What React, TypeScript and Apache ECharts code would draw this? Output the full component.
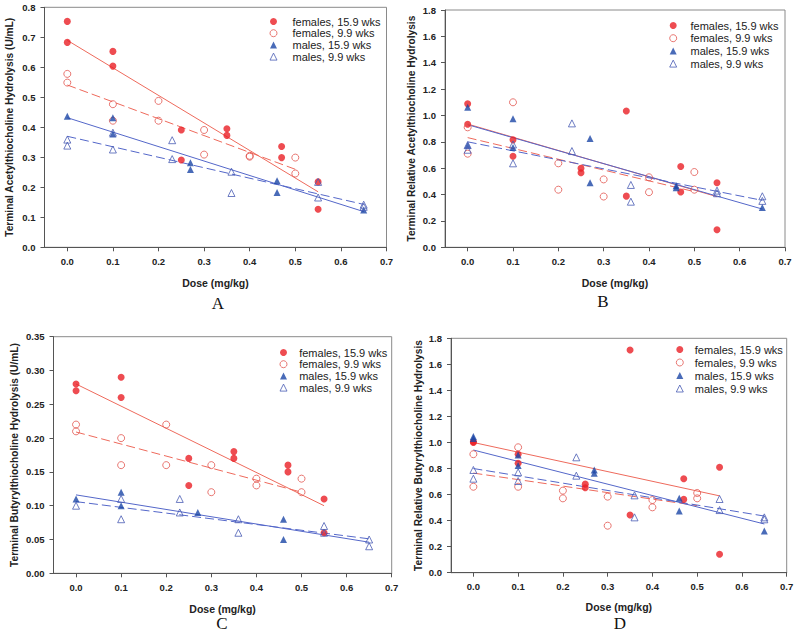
import React, { useEffect, useRef } from "react";
import * as echarts from "echarts";

// ---------- data ----------
const groupNames = ["females, 15.9 wks", "females, 9.9 wks", "males, 15.9 wks", "males, 9.9 wks"];
const doseTicks = [0, 0.1, 0.2, 0.3, 0.4, 0.5, 0.6, 0.7];

// Panel A: Terminal Acetylthiocholine Hydrolysis (U/mL)
const aF15 = [[0, 0.753], [0, 0.683], [0.1, 0.653], [0.1, 0.604], [0.25, 0.391], [0.25, 0.291], [0.35, 0.395], [0.35, 0.373], [0.47, 0.336], [0.47, 0.299], [0.55, 0.218], [0.55, 0.127]];
const aF9 = [[0, 0.578], [0, 0.549], [0.1, 0.477], [0.1, 0.422], [0.2, 0.488], [0.2, 0.422], [0.3, 0.391], [0.3, 0.309], [0.4, 0.305], [0.4, 0.302], [0.5, 0.299], [0.5, 0.246]];
const aM15 = [[0, 0.437], [0.1, 0.432], [0.1, 0.378], [0.27, 0.282], [0.27, 0.259], [0.46, 0.222], [0.46, 0.183], [0.65, 0.124]];
const aM9 = [[0, 0.359], [0, 0.339], [0.1, 0.382], [0.1, 0.326], [0.23, 0.357], [0.23, 0.294], [0.36, 0.252], [0.36, 0.181], [0.55, 0.218], [0.55, 0.166], [0.65, 0.142], [0.65, 0.135]];
const aFitF15 = [[0, 0.69], [0.55, 0.185]];
const aFitF9 = [[0, 0.541], [0.5, 0.26]];
const aFitM15 = [[0, 0.432], [0.65, 0.119]];
const aFitM9 = [[0, 0.37], [0.65, 0.143]];

// Panel B: Terminal Relative Acetylthiocholine Hydrolysis
const bF15 = [[0, 1.088], [0, 0.933], [0.1, 0.815], [0.1, 0.69], [0.25, 0.6], [0.25, 0.566], [0.35, 1.034], [0.35, 0.388], [0.47, 0.613], [0.47, 0.42], [0.55, 0.49], [0.55, 0.133]];
const bF9 = [[0, 0.91], [0, 0.71], [0.1, 1.1], [0.2, 0.637], [0.2, 0.437], [0.3, 0.515], [0.3, 0.385], [0.4, 0.531], [0.4, 0.418], [0.5, 0.571], [0.5, 0.437]];
const bM15 = [[0, 1.063], [0, 0.775], [0.1, 0.975], [0.1, 0.757], [0.27, 0.826], [0.27, 0.49], [0.46, 0.467], [0.46, 0.452], [0.65, 0.302]];
const bM9 = [[0, 0.775], [0, 0.74], [0.1, 0.78], [0.1, 0.637], [0.23, 0.94], [0.23, 0.73], [0.36, 0.473], [0.36, 0.346], [0.55, 0.43], [0.55, 0.41], [0.65, 0.387], [0.65, 0.352]];
const bFitF15 = [[0, 0.935], [0.55, 0.384]];
const bFitF9 = [[0, 0.832], [0.5, 0.422]];
const bFitM15 = [[0, 0.93], [0.65, 0.29]];
const bFitM9 = [[0, 0.8], [0.65, 0.356]];

// Panel C: Terminal Butyrylthiocholine Hydrolysis (U/mL)
const cF15 = [[0, 0.28], [0, 0.27], [0.1, 0.29], [0.1, 0.26], [0.25, 0.17], [0.25, 0.13], [0.35, 0.18], [0.35, 0.17], [0.47, 0.16], [0.47, 0.15], [0.55, 0.11], [0.55, 0.06]];
const cF9 = [[0, 0.22], [0, 0.21], [0.1, 0.2], [0.1, 0.16], [0.2, 0.22], [0.2, 0.16], [0.3, 0.16], [0.3, 0.12], [0.4, 0.14], [0.4, 0.13], [0.5, 0.14], [0.5, 0.12]];
const cM15 = [[0, 0.11], [0.1, 0.12], [0.1, 0.1], [0.27, 0.09], [0.46, 0.08], [0.46, 0.05]];
const cM9 = [[0, 0.1], [0.1, 0.11], [0.1, 0.08], [0.23, 0.11], [0.23, 0.09], [0.36, 0.08], [0.36, 0.06], [0.55, 0.07], [0.55, 0.06], [0.65, 0.05], [0.65, 0.04]];
const cFitF15 = [[0, 0.28], [0.55, 0.1]];
const cFitF9 = [[0, 0.209], [0.5, 0.12]];
const cFitM15 = [[0, 0.116], [0.65, 0.046]];
const cFitM9 = [[0, 0.106], [0.65, 0.051]];

// Panel D: Terminal Relative Butyrylthiocholine Hydrolysis
const dF15 = [[0, 1.006], [0, 1.0], [0.1, 0.91], [0.1, 0.84], [0.25, 0.68], [0.25, 0.653], [0.35, 1.71], [0.35, 0.443], [0.47, 0.722], [0.47, 0.563], [0.55, 0.81], [0.55, 0.141]];
const dF9 = [[0, 0.91], [0, 0.66], [0.1, 0.963], [0.1, 0.66], [0.2, 0.63], [0.2, 0.571], [0.3, 0.584], [0.3, 0.361], [0.4, 0.558], [0.4, 0.502], [0.5, 0.612], [0.5, 0.571]];
const dM15 = [[0, 1.045], [0, 1.03], [0.1, 0.904], [0.1, 0.824], [0.27, 0.789], [0.27, 0.763], [0.46, 0.571], [0.46, 0.474], [0.65, 0.32]];
const dM9 = [[0, 0.789], [0, 0.722], [0.1, 0.771], [0.1, 0.704], [0.23, 0.886], [0.23, 0.745], [0.36, 0.594], [0.36, 0.425], [0.55, 0.566], [0.55, 0.481], [0.65, 0.425], [0.65, 0.41]];
const dFitF15 = [[0, 1.0], [0.55, 0.59]];
const dFitF9 = [[0, 0.765], [0.5, 0.515]];
const dFitM15 = [[0, 0.942], [0.65, 0.374]];
const dFitM9 = [[0, 0.8], [0.65, 0.435]];

// ---------- styles ----------
const FONT = "'Liberation Sans', Arial, sans-serif";
const RED = "#ea1f26";
const RED_OPEN = "#e2554f";
const BLUE = "#1c46a6";
const BLUE_OPEN = "#4a5cb4";
const RED_LINE = "#ee6a5c";
const BLUE_LINE = "#5467c9";

const markStyles = [
  { symbol: "circle", itemStyle: { color: RED, borderWidth: 0 } },
  { symbol: "circle", itemStyle: { color: "rgba(255,255,255,0)", borderColor: RED_OPEN, borderWidth: 1 } },
  { symbol: "triangle", itemStyle: { color: BLUE, borderWidth: 0 } },
  { symbol: "triangle", itemStyle: { color: "rgba(255,255,255,0)", borderColor: BLUE_OPEN, borderWidth: 1 } },
];
const fitStyles = [
  { color: RED_LINE, type: "solid" },
  { color: RED_LINE, type: [9, 4] },
  { color: BLUE_LINE, type: "solid" },
  { color: BLUE_LINE, type: [9, 4] },
];

const panels = [
  {
    grid: { left: 44.5, top: 7.3, width: 342, height: 240 },
    yMax: 0.8, yInt: 0.1, dec: 1, yGap: 30, xGap: 30,
    title: "Terminal Acetylthiocholine Hydrolysis (U/mL)",
    legend: { left: 269.5, top: 16, pad: 10.5, itemGap: 0.7 },
    groups: [aF15, aF9, aM15, aM9], fits: [aFitF15, aFitF9, aFitM15, aFitM9],
    letter: { x: 218, y: 303, t: "A" },
  },
  {
    grid: { left: 445, top: 10, width: 340, height: 237.3 },
    yMax: 1.8, yInt: 0.2, dec: 1, yGap: 29, xGap: 30,
    title: "Terminal Relative Acetylthiocholine Hydrolysis",
    legend: { left: 669.2, top: 20, pad: 8.8, itemGap: 1.7 },
    groups: [bF15, bF9, bM15, bM9], fits: [bFitF15, bFitF9, bFitM15, bFitM9],
    letter: { x: 603, y: 301, t: "B" },
  },
  {
    grid: { left: 53.5, top: 336.7, width: 338.2, height: 236.6 },
    yMax: 0.35, yInt: 0.05, dec: 2, yGap: 34, xGap: 30,
    title: "Terminal Butyrylthiocholine Hydrolysis (U/mL)",
    legend: { left: 279.5, top: 347, pad: 7.2, itemGap: 0.7 },
    groups: [cF15, cF9, cM15, cM9], fits: [cFitF15, cFitF9, cFitM15, cFitM9],
    letter: { x: 222, y: 623, t: "C" },
  },
  {
    grid: { left: 451, top: 338.3, width: 335.7, height: 234.4 },
    yMax: 1.8, yInt: 0.2, dec: 1, yGap: 28, xGap: 29,
    title: "Terminal Relative Butyrylthiocholine Hydrolysis",
    legend: { left: 675.8, top: 344, pad: 6.5, itemGap: 2 },
    groups: [dF15, dF9, dM15, dM9], fits: [dFitF15, dFitF9, dFitM15, dFitM9],
    letter: { x: 620, y: 623, t: "D" },
  },
];

function buildOption() {
  const grid: any[] = [];
  const xAxis: any[] = [];
  const yAxis: any[] = [];
  const legend: any[] = [];
  const series: any[] = [];
  const graphic: any[] = [];

  panels.forEach((p, i) => {
    grid.push({
      ...p.grid,
      show: true,
      borderColor: "#8a8a8a",
      borderWidth: 1,
      backgroundColor: "rgba(0,0,0,0)",
      containLabel: false,
      outerBoundsMode: "none",
    });
    xAxis.push({
      gridIndex: i,
      type: "value",
      min: -0.05,
      max: 0.7,
      name: "Dose (mg/kg)",
      nameLocation: "middle",
      nameGap: p.xGap,
      nameTextStyle: { fontFamily: FONT, fontWeight: "bold", fontSize: 10.5, color: "#222" },
      axisLine: { show: true, onZero: false, lineStyle: { color: "#555", width: 1 } },
      axisTick: { show: true, length: 4, customValues: doseTicks, lineStyle: { color: "#555" } },
      axisLabel: {
        customValues: doseTicks,
        formatter: (v: number) => v.toFixed(1),
        fontFamily: FONT, fontWeight: "bold", fontSize: 9.5, color: "#222", margin: 9,
      },
      splitLine: { show: false },
    });
    yAxis.push({
      gridIndex: i,
      type: "value",
      min: 0,
      max: p.yMax,
      interval: p.yInt,
      name: p.title,
      nameLocation: "middle",
      nameGap: p.yGap,
      nameTextStyle: { fontFamily: FONT, fontWeight: "bold", fontSize: 10.2, color: "#222" },
      axisLine: { show: true, onZero: false, lineStyle: { color: "#555", width: 1 } },
      axisTick: { show: true, length: 4, lineStyle: { color: "#555" } },
      axisLabel: {
        formatter: (v: number) => v.toFixed(p.dec),
        fontFamily: FONT, fontWeight: "bold", fontSize: 9.5, color: "#222", margin: 9,
      },
      splitLine: { show: false },
    });
    legend.push({
      data: groupNames,
      orient: "vertical",
      left: p.legend.left,
      top: p.legend.top,
      itemWidth: 7,
      itemHeight: 7,
      itemGap: p.legend.itemGap,
      selectedMode: false,
      padding: 0,
      itemStyle: { borderWidth: 1 },
      textStyle: {
        fontFamily: FONT, fontSize: 11, color: "#222", lineHeight: 11,
        padding: [0, 0, 0, p.legend.pad],
      },
    });
    p.fits.forEach((f, k) => {
      series.push({
        name: `fit-${i}-${k}`,
        type: "line",
        xAxisIndex: i,
        yAxisIndex: i,
        data: f,
        symbol: "none",
        silent: true,
        z: 1,
        lineStyle: { color: fitStyles[k].color, width: 1, type: fitStyles[k].type },
      });
    });
    p.groups.forEach((g, k) => {
      series.push({
        name: groupNames[k],
        type: "scatter",
        xAxisIndex: i,
        yAxisIndex: i,
        data: g,
        symbol: markStyles[k].symbol,
        symbolSize: 7,
        itemStyle: markStyles[k].itemStyle,
        z: 3,
      });
    });
    graphic.push({
      type: "text",
      x: p.letter.x,
      y: p.letter.y,
      style: {
        text: p.letter.t,
        fontFamily: "'Liberation Serif', 'Times New Roman', serif",
        fontSize: 17,
        fill: "#111",
        textAlign: "center",
        textVerticalAlign: "middle",
      },
    });
  });

  return {
    animation: false,
    backgroundColor: "#ffffff",
    grid,
    xAxis,
    yAxis,
    legend,
    series,
    graphic,
  };
}

export default function App() {
  const ref = useRef<HTMLDivElement>(null);
  useEffect(() => {
    if (!ref.current) return;
    const chart = echarts.init(ref.current, null, { renderer: "svg" });
    chart.setOption(buildOption() as any);
    return () => chart.dispose();
  }, []);
  return (
    <div
      ref={ref}
      style={{ position: "fixed", left: 0, top: 0, width: 800, height: 634, background: "#fff" }}
    />
  );
}
